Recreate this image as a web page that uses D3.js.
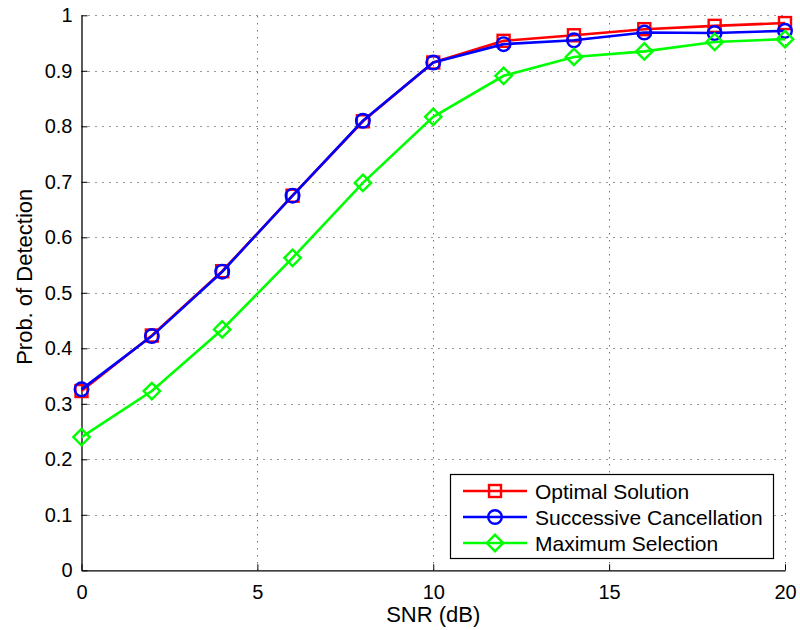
<!DOCTYPE html>
<html>
<head>
<meta charset="utf-8">
<script src="https://cdn.jsdelivr.net/npm/d3@7"></script>
<style>
  html, body { margin: 0; padding: 0; background: #fff; }
  svg text { font-family: "Liberation Sans", Arial, Helvetica, sans-serif; }
</style>
</head>
<body>
<svg id="chart" width="800" height="630"></svg>
<script>
// Detection probability versus SNR for three detectors
const snr = [0, 2, 4, 6, 8, 10, 12, 14, 16, 18, 20];
const optimal = [0.323, 0.423, 0.539, 0.675, 0.809, 0.915, 0.954, 0.964, 0.975, 0.981, 0.986];
const successive = [0.326, 0.422, 0.538, 0.675, 0.810, 0.915, 0.948, 0.955, 0.969, 0.968, 0.972];
const maxSelection = [0.240, 0.323, 0.434, 0.563, 0.698, 0.817, 0.891, 0.925, 0.935, 0.952, 0.957];
const seriesNames = ["Optimal Solution", "Successive Cancellation", "Maximum Selection"];
const xTicks = [0, 5, 10, 15, 20];
const yTicks = [0, 0.1, 0.2, 0.3, 0.4, 0.5, 0.6, 0.7, 0.8, 0.9, 1];

const series = [
  { name: seriesNames[0], values: optimal, color: "#ff0000", marker: "square" },
  { name: seriesNames[1], values: successive, color: "#0000ff", marker: "circle" },
  { name: seriesNames[2], values: maxSelection, color: "#00ff00", marker: "diamond" }
];

const svg = d3.select("#chart");
const m = { left: 81.5, right: 785, top: 15.3, bottom: 570.3 };

const x = d3.scaleLinear().domain([0, 20]).range([m.left, m.right]);
const y = d3.scaleLinear().domain([0, 1]).range([m.bottom, m.top]);

// dotted grid
const grid = svg.append("g").attr("stroke", "#333").attr("stroke-width", 1)
  .attr("stroke-dasharray", "1,6").attr("fill", "none");
xTicks.forEach(t => {
  if (t === 0) return;
  grid.append("line").attr("x1", Math.round(x(t)) + 0.5).attr("x2", Math.round(x(t)) + 0.5)
    .attr("y1", m.bottom).attr("y2", m.top);
});
yTicks.forEach(t => {
  if (t === 0) return;
  grid.append("line").attr("x1", m.left).attr("x2", m.right)
    .attr("y1", Math.round(y(t)) + 0.5).attr("y2", Math.round(y(t)) + 0.5);
});

// axes with inward ticks
const xAxis = d3.axisBottom(x).tickValues(xTicks).tickFormat(d3.format("d"))
  .tickSizeInner(-6).tickSizeOuter(0).tickPadding(14.5);
const yAxis = d3.axisLeft(y).tickValues(yTicks).tickFormat(d => d === 0 || d === 1 ? String(d) : d3.format(".1f")(d))
  .tickSizeInner(-6).tickSizeOuter(0).tickPadding(9);

const gx = svg.append("g").attr("transform", `translate(0,${m.bottom})`).call(xAxis);
const gy = svg.append("g").attr("transform", `translate(${m.left},0)`).call(yAxis);
[gx, gy].forEach(g => {
  g.select(".domain").attr("stroke", "#000").attr("stroke-width", 1.3);
  g.selectAll(".tick line").attr("stroke", "#000").attr("stroke-width", 1);
  g.selectAll(".tick text").attr("fill", "#000").attr("font-size", 20)
    .attr("font-family", "'Liberation Sans', Arial, sans-serif");
});
gx.selectAll(".tick text").attr("dy", "0.71em");

// axis titles
svg.append("text").attr("x", (m.left + m.right) / 2).attr("y", 622)
  .attr("text-anchor", "middle").attr("font-size", 22).text("SNR (dB)");
svg.append("text").attr("transform", `translate(32,${(m.top + m.bottom) / 2 - 16}) rotate(-90)`)
  .attr("text-anchor", "middle").attr("font-size", 22).text("Prob. of Detection");

// marker drawing
function drawMarker(g, type, cx, cy, color) {
  if (type === "square") {
    g.append("rect").attr("x", cx - 6).attr("y", cy - 6).attr("width", 12).attr("height", 12)
      .attr("fill", "none").attr("stroke", color).attr("stroke-width", 2.4);
  } else if (type === "circle") {
    g.append("circle").attr("cx", cx).attr("cy", cy).attr("r", 6.8)
      .attr("fill", "none").attr("stroke", color).attr("stroke-width", 2.4);
  } else {
    const r = 8.2;
    g.append("path").attr("d", `M${cx},${cy - r}L${cx + r},${cy}L${cx},${cy + r}L${cx - r},${cy}Z`)
      .attr("fill", "none").attr("stroke", color).attr("stroke-width", 2.4);
  }
}

const line = d3.line().x((d, i) => x(snr[i])).y(d => y(d));
series.forEach(s => {
  const g = svg.append("g");
  g.append("path").datum(s.values).attr("d", line)
    .attr("fill", "none").attr("stroke", s.color).attr("stroke-width", 2.6);
  s.values.forEach((v, i) => drawMarker(g, s.marker, x(snr[i]), y(v), s.color));
});

// legend
const lg = svg.append("g");
lg.append("rect").attr("x", 450.5).attr("y", 474.5).attr("width", 323).attr("height", 84)
  .attr("fill", "#fff").attr("stroke", "#000").attr("stroke-width", 1.2);
series.forEach((s, i) => {
  const cy = 491 + i * 26;
  lg.append("line").attr("x1", 463).attr("x2", 527).attr("y1", cy).attr("y2", cy)
    .attr("stroke", s.color).attr("stroke-width", 2.6);
  drawMarker(lg, s.marker, 495, cy, s.color);
  lg.append("text").attr("x", 535).attr("y", cy).attr("dy", "0.36em")
    .attr("font-size", 21).attr("fill", "#000").text(s.name);
});
</script>
</body>
</html>
